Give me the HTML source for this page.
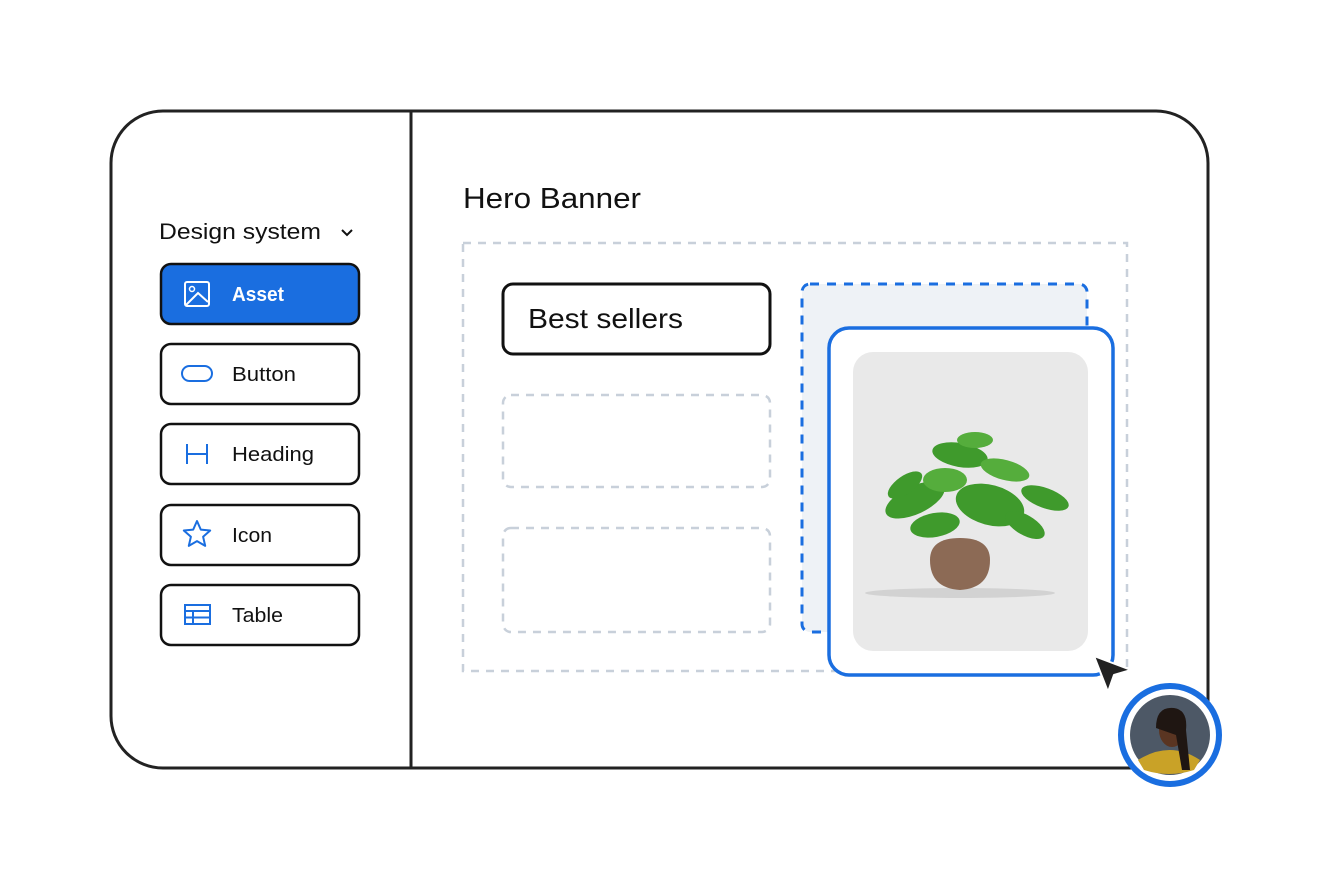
<!DOCTYPE html>
<html><head><meta charset="utf-8"><style>
html,body{margin:0;padding:0;background:#fff;width:1320px;height:880px;overflow:hidden}
svg text{font-family:"Liberation Sans",sans-serif;fill:#111}
</style></head><body>
<svg width="1320" height="880" viewBox="0 0 1320 880" xmlns="http://www.w3.org/2000/svg">
<rect x="111" y="111" width="1097" height="657" rx="52" fill="#fff" stroke="#222" stroke-width="3"/>
<line x1="411" y1="112" x2="411" y2="767" stroke="#222" stroke-width="3"/>
<text x="159" y="239" font-size="22" textLength="162" lengthAdjust="spacingAndGlyphs" style="font-weight:500">Design system</text>
<path d="M342 230 l5 5 l5 -5" fill="none" stroke="#111" stroke-width="2"/>
<!-- sidebar buttons -->
<rect x="161" y="264" width="198" height="60" rx="10" fill="#1a6ee0" stroke="#111" stroke-width="2.5"/>
<rect x="185" y="282" width="24" height="24" rx="2" fill="none" stroke="#fff" stroke-width="2"/>
<circle cx="192" cy="289" r="2.5" fill="none" stroke="#fff" stroke-width="1.5"/>
<path d="M186 305 l12 -12 l10 9" fill="none" stroke="#fff" stroke-width="2"/>
<text x="232" y="301" font-size="20" font-weight="bold" textLength="52" lengthAdjust="spacingAndGlyphs" style="fill:#fff">Asset</text>

<rect x="161" y="344" width="198" height="60" rx="10" fill="#fff" stroke="#111" stroke-width="2.5"/>
<rect x="182" y="366" width="30" height="15" rx="7.5" fill="none" stroke="#1a6ee0" stroke-width="2"/>
<text x="232" y="381" font-size="20" textLength="64" lengthAdjust="spacingAndGlyphs">Button</text>

<rect x="161" y="424" width="198" height="60" rx="10" fill="#fff" stroke="#111" stroke-width="2.5"/>
<path d="M187 444 v20 M207 444 v20 M187 454 h20" stroke="#1a6ee0" stroke-width="2" fill="none"/>
<text x="232" y="461" font-size="20" textLength="82" lengthAdjust="spacingAndGlyphs">Heading</text>

<rect x="161" y="505" width="198" height="60" rx="10" fill="#fff" stroke="#111" stroke-width="2.5"/>
<path d="M197 521 l3.8 8.6 9.4 0.9 -7.1 6.2 2.1 9.2 -8.2 -4.8 -8.2 4.8 2.1 -9.2 -7.1 -6.2 9.4 -0.9z" fill="none" stroke="#1a6ee0" stroke-width="2" stroke-linejoin="round"/>
<text x="232" y="542" font-size="20" textLength="40" lengthAdjust="spacingAndGlyphs">Icon</text>

<rect x="161" y="585" width="198" height="60" rx="10" fill="#fff" stroke="#111" stroke-width="2.5"/>
<rect x="185" y="605" width="25" height="19" fill="none" stroke="#1a6ee0" stroke-width="2"/>
<path d="M185 611 h25 M185 617.5 h25 M193 611 v13" stroke="#1a6ee0" stroke-width="2"/>
<text x="232" y="622" font-size="20" textLength="51" lengthAdjust="spacingAndGlyphs">Table</text>

<!-- main -->
<text x="463" y="208" font-size="29" textLength="178" lengthAdjust="spacingAndGlyphs" style="font-weight:500">Hero Banner</text>
<rect x="463" y="243" width="664" height="428" fill="none" stroke="#c8d0da" stroke-width="2.5" stroke-dasharray="8 7"/>
<rect x="503" y="284" width="267" height="70" rx="10" fill="#fff" stroke="#111" stroke-width="3"/>
<text x="528" y="328" font-size="28" textLength="155" lengthAdjust="spacingAndGlyphs" style="font-weight:500">Best sellers</text>
<rect x="503" y="395" width="267" height="92" rx="8" fill="none" stroke="#c8d0da" stroke-width="2.5" stroke-dasharray="8 7"/>
<rect x="503" y="528" width="267" height="104" rx="8" fill="none" stroke="#c8d0da" stroke-width="2.5" stroke-dasharray="8 7"/>
<rect x="802" y="284" width="285" height="348" rx="8" fill="#eef2f6" stroke="#1a6ee0" stroke-width="3" stroke-dasharray="9 8"/>
<rect x="829" y="328" width="284" height="347" rx="20" fill="#fff" stroke="#1a6ee0" stroke-width="3.5"/>
<rect x="853" y="352" width="235" height="299" rx="20" fill="#e9e9e9"/>
<!-- plant -->
<ellipse cx="960" cy="593" rx="95" ry="5" fill="#d2d2d2"/>
<g fill="#3f9a2c">
<ellipse cx="915" cy="500" rx="32" ry="14" transform="rotate(-25 915 500)"/>
<ellipse cx="990" cy="505" rx="35" ry="20" transform="rotate(15 990 505)"/>
<ellipse cx="960" cy="455" rx="28" ry="12" transform="rotate(10 960 455)"/>
<ellipse cx="1045" cy="498" rx="25" ry="10" transform="rotate(20 1045 498)"/>
<ellipse cx="935" cy="525" rx="25" ry="12" transform="rotate(-10 935 525)"/>
<ellipse cx="1025" cy="525" rx="22" ry="10" transform="rotate(30 1025 525)"/>
<ellipse cx="945" cy="480" rx="22" ry="12" fill="#55ad3c"/>
<ellipse cx="1005" cy="470" rx="25" ry="10" fill="#55ad3c" transform="rotate(15 1005 470)"/>
<ellipse cx="905" cy="485" rx="20" ry="9" transform="rotate(-35 905 485)"/>
<ellipse cx="975" cy="440" rx="18" ry="8" fill="#55ad3c"/>
</g>
<path d="M930 560 q0 -22 30 -22 q30 0 30 22 q0 28 -30 30 q-30 -2 -30 -30z" fill="#8c6a55"/>
<!-- cursor -->
<path d="M1094 656 l37 14 l-17 5 l-6 17z" fill="#222" stroke="#fff" stroke-width="2" stroke-linejoin="round"/>
<!-- avatar -->
<circle cx="1170" cy="735" r="49" fill="#fff" stroke="#1a6ee0" stroke-width="6"/>
<circle cx="1170" cy="735" r="40" fill="#4d5866"/>
<path d="M1138 760 q32 -20 62 0 l-6 10 q-25 8 -50 0z" fill="#c9a227"/>
<ellipse cx="1172" cy="730" rx="13" ry="17" fill="#5a3522"/>
<path d="M1156 728 q0 -22 18 -20 q14 2 12 22 l4 40 -8 0 -6 -35z" fill="#1f1612"/>
</svg>
</body></html>
